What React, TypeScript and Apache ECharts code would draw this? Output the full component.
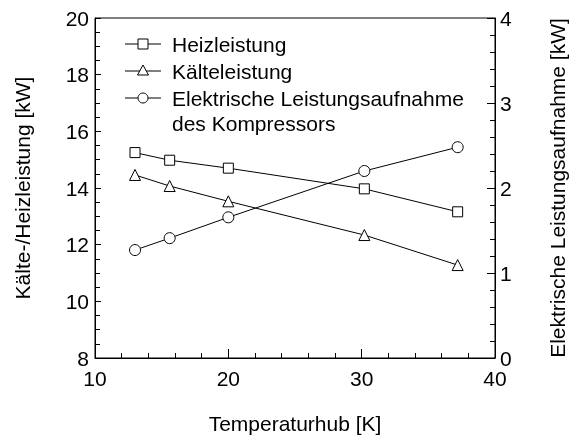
import React, { useEffect, useRef } from "react";
import * as echarts from "echarts";

const temperaturhub = [13.0, 15.6, 20.0, 30.2, 37.2];
const heizleistung = [15.25, 14.98, 14.7, 13.97, 13.16];
const kaelteleistung = [14.46, 14.07, 13.53, 12.34, 11.28];
const elektrisch = [1.27, 1.41, 1.655, 2.2, 2.48];
const seriesNames = ["Heizleistung", "Kälteleistung", "Elektrische Leistungsaufnahme", "des Kompressors"];

const FONT = "'Liberation Sans', Arial, sans-serif";
const FS = 21;

export default function App() {
  const ref = useRef<HTMLDivElement>(null);
  useEffect(() => {
    const chart = echarts.init(ref.current!, null, { renderer: "svg" });
    const pairs = (ys: number[]) => temperaturhub.map((x, i) => [x, ys[i]]);
    const lineStyle = { color: "#000", width: 1 };
    const itemStyle = { color: "#fff", borderColor: "#000", borderWidth: 1 };
    const legendX = 125, legendX2 = 161, textX = 172;
    const rows = [44, 71, 98, 123];
    const mk = (y: number, shape: any) => [
      { type: "line", shape: { x1: legendX, y1: y, x2: legendX2, y2: y }, style: { stroke: "#000", lineWidth: 1 } },
      shape,
    ];
    const txt = { fontSize: FS, color: "#000", fontFamily: FONT };
    const lbl = { ...txt, lineHeight: 16 };
    chart.setOption({
      animation: false,
      textStyle: { fontFamily: FONT },
      grid: {
        left: 95, right: 74, top: 18, bottom: 78, containLabel: false, outerBoundsMode: "none",
        show: true, borderColor: "#000", borderWidth: 1, backgroundColor: "transparent",
      },
      xAxis: {
        type: "value", min: 10, max: 40, interval: 10,
        name: "Temperaturhub [K]", nameLocation: "middle", nameGap: 55,
        nameTextStyle: txt,
        axisLine: { lineStyle: { color: "#000" } },
        axisTick: { inside: true, length: 9, lineStyle: { color: "#000" } },
        minorTick: { show: true, splitNumber: 5, length: 5, lineStyle: { color: "#000" } },
        axisLabel: { ...lbl, margin: 12 },
        splitLine: { show: false },
      },
      yAxis: [
        {
          type: "value", min: 8, max: 20, interval: 2,
          name: "Kälte-/Heizleistung [kW]", nameLocation: "middle", nameGap: 62, nameRotate: 90,
          nameTextStyle: txt,
          axisLine: { show: true, lineStyle: { color: "#000" } },
          axisTick: { inside: true, length: 6, lineStyle: { color: "#000" } },
          minorTick: { show: true, splitNumber: 4, length: 5, lineStyle: { color: "#000" } },
          axisLabel: { ...lbl, margin: 6 },
          splitLine: { show: false },
        },
        {
          type: "value", min: 0, max: 4, interval: 1, position: "right",
          name: "Elektrische Leistungsaufnahme [kW]", nameLocation: "middle", nameGap: 52, nameRotate: 90,
          nameTextStyle: txt,
          axisLine: { show: true, lineStyle: { color: "#000" } },
          axisTick: { inside: true, length: 8, lineStyle: { color: "#000" } },
          minorTick: { show: true, splitNumber: 5, length: 5, lineStyle: { color: "#000" } },
          axisLabel: { ...lbl, margin: 5 },
          splitLine: { show: false },
        },
      ],
      series: [
        { name: seriesNames[0], type: "line", data: pairs(heizleistung), symbol: "rect", symbolSize: 10, lineStyle, itemStyle, z: 3 },
        { name: seriesNames[1], type: "line", data: pairs(kaelteleistung), symbol: "triangle", symbolSize: 11, lineStyle, itemStyle, z: 3 },
        { name: seriesNames[2], type: "line", yAxisIndex: 1, data: pairs(elektrisch), symbol: "circle", symbolSize: 11, lineStyle, itemStyle, z: 3 },
      ],
      graphic: [
        ...mk(rows[0], { type: "rect", shape: { x: 138, y: rows[0] - 5, width: 10, height: 10 }, style: { fill: "#fff", stroke: "#000", lineWidth: 1 } }),
        ...mk(rows[1], { type: "polygon", shape: { points: [[143, rows[1] - 6], [137.5, rows[1] + 4], [148.5, rows[1] + 4]] }, style: { fill: "#fff", stroke: "#000", lineWidth: 1 } }),
        ...mk(rows[2], { type: "circle", shape: { cx: 143, cy: rows[2], r: 5 }, style: { fill: "#fff", stroke: "#000", lineWidth: 1 } }),
        ...seriesNames.map((t, i) => ({
          type: "text", x: textX, y: rows[i],
          style: { text: t, fontSize: FS, fill: "#000", fontFamily: FONT, verticalAlign: "middle", textAlign: "left" },
        })),
      ],
    });
    return () => chart.dispose();
  }, []);
  return <div ref={ref} style={{ position: "fixed", left: 0, top: 0, width: 569, height: 436 }} />;
}
